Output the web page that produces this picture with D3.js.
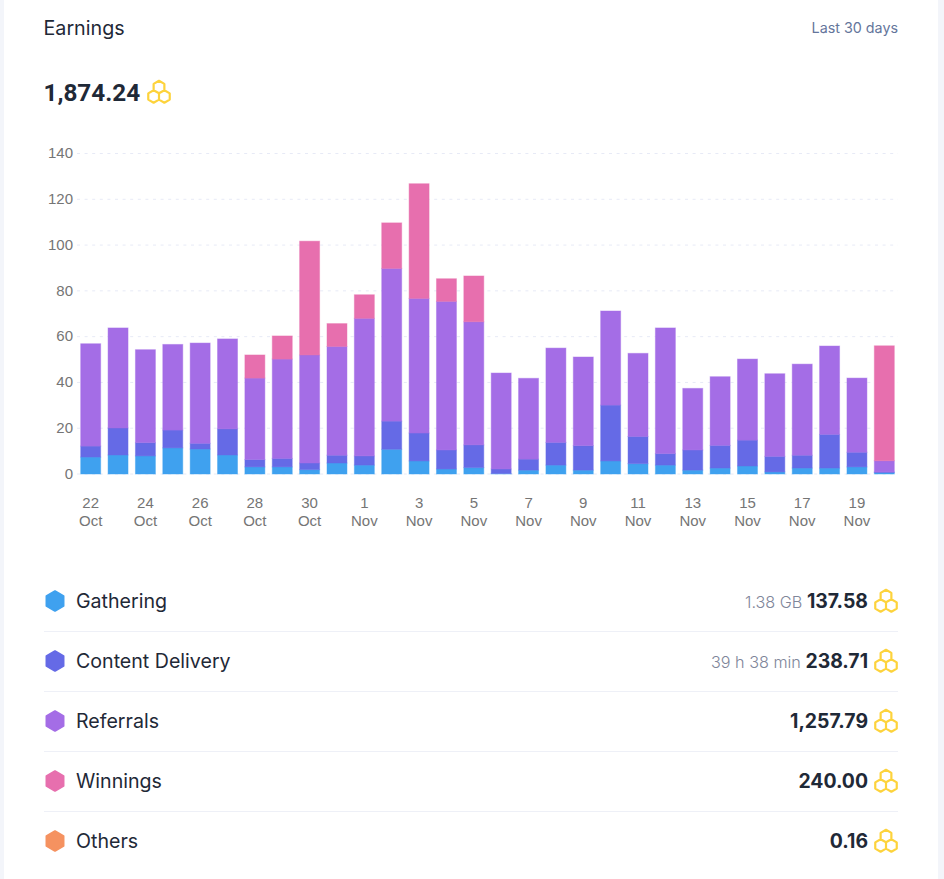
<!DOCTYPE html>
<html>
<head>
<meta charset="utf-8">
<script src="https://cdn.jsdelivr.net/npm/d3@7"></script>
<style>
  html, body { margin: 0; padding: 0; background: #f3f5fa; overflow: hidden; }
  svg { display: block; }
  text { font-family: Inter, "Noto Sans", sans-serif; }
</style>
</head>
<body>
<div id="chart"></div>
<script>
// x axis days, labels only on every other bar
var days = ["22 Oct","23 Oct","24 Oct","25 Oct","26 Oct","27 Oct","28 Oct","29 Oct","30 Oct","31 Oct",
  "1 Nov","2 Nov","3 Nov","4 Nov","5 Nov","6 Nov","7 Nov","8 Nov","9 Nov","10 Nov",
  "11 Nov","12 Nov","13 Nov","14 Nov","15 Nov","16 Nov","17 Nov","18 Nov","19 Nov","20 Nov"];

// values
var gathering = [7.4,8.3,7.9,11.4,10.9,8.3,3.1,3.1,1.9,4.8,3.9,10.8,5.7,2.2,2.8,0.2,1.7,3.9,1.7,5.7,4.5,3.9,1.7,2.6,3.5,0.9,2.6,2.6,3.1,0.6];
var delivery = [4.8,11.8,5.8,7.8,2.5,11.4,3.2,3.7,2.9,3.4,4.0,12.3,12.2,8.3,9.9,2.0,4.8,9.9,10.7,24.4,11.9,5.0,8.8,9.9,11.3,6.8,5.6,14.7,6.4,0.3];
var referrals = [44.7,43.7,40.6,37.4,43.8,39.3,35.6,43.4,47.2,47.5,60.1,66.7,58.8,64.9,53.8,41.9,35.3,41.2,38.7,41.1,36.3,54.9,26.9,30.0,35.4,36.1,39.8,38.6,32.4,4.9];
var winnings = [0,0,0,0,0,0,10.1,10.1,49.7,10.0,10.3,19.9,50.1,9.9,20.0,0,0,0,0,0,0,0,0,0,0,0,0,0,0,50.2];
var others = [0,0,0,0,0,0,0,0,0,0,0,0,0,0,0,0,0,0,0,0,0,0,0,0,0,0,0,0,0,0];
var yTicks = [0,20,40,60,80,100,120,140];

// legend table
var names = ["Gathering","Content Delivery","Referrals","Winnings","Others"];
var colors = ["#3fa1ef","#656ae6","#a46de6","#e76fae","#f59260"];
var notes = ["1.38 GB","39 h 38 min","","",""];
var totals = ["137.58","238.71","1,257.79","240.00","0.16"];

var width = 944, height = 879;
var dark = "#1f2937";

var svg = d3.select("#chart").append("svg")
  .attr("width", width)
  .attr("height", height)
  .attr("viewBox", [0, 0, width, height]);

// white card
svg.append("rect")
  .attr("x", 4).attr("y", 0)
  .attr("width", 934).attr("height", height)
  .attr("fill", "#fff");

// header
svg.append("text")
  .attr("x", 43.5).attr("y", 35)
  .style("font-size", "19.7px")
  .attr("fill", dark)
  .text("Earnings");
svg.append("text")
  .attr("x", 898).attr("y", 33)
  .attr("text-anchor", "end")
  .style("font-size", "14.3px")
  .attr("fill", "#64759b")
  .text("Last 30 days");
svg.append("text")
  .attr("x", 43.5).attr("y", 101)
  .style("font-family", "Roboto")
  .style("font-size", "24.3px")
  .style("font-weight", 700)
  .attr("fill", dark)
  .text("1,874.24");

// hexagon corners, pointy side up
function hexPath(cx, cy, r) {
  var pts = d3.range(6).map(function (i) {
    var a = Math.PI / 3 * i;
    return [cx + r * Math.sin(a), cy - r * Math.cos(a)];
  });
  return "M" + pts.join("L") + "Z";
}

// the little coin made of 3 hexagons
function coin(cx, cy) {
  var r = 6.2;
  var dx = r * Math.sqrt(3) / 2;
  var p = hexPath(cx, cy - 5, r) + hexPath(cx - dx, cy + 4.5, r) + hexPath(cx + dx, cy + 4.5, r);
  svg.append("path")
    .attr("d", p)
    .attr("fill", "none")
    .attr("stroke", "#fdd33c")
    .attr("stroke-width", 2.2)
    .attr("stroke-linejoin", "round");
}
coin(159, 92);

// scales
var x = d3.scaleBand().domain(days).range([77, 898]).paddingInner(0.27).paddingOuter(0.135);
var y = d3.scaleLinear().domain([0, 140]).range([474, 153.5]);

// grid
svg.append("g").selectAll("line")
  .data(yTicks)
  .join("line")
  .attr("x1", 77).attr("x2", 898)
  .attr("y1", function (d) { return y(d); })
  .attr("y2", function (d) { return y(d); })
  .attr("stroke", "#e7eaf6")
  .attr("stroke-dasharray", "3,4.6");

// y axis
var yAxis = svg.append("g")
  .attr("transform", "translate(73,-0.5)")
  .call(d3.axisLeft(y).tickValues(yTicks).tickSize(0).tickPadding(0));
yAxis.select(".domain").remove();
yAxis.selectAll("text")
  .style("font-family", "'Liberation Sans'")
  .style("font-size", "15px")
  .attr("fill", "#757575");

// stacked bars
var rows = days.map(function (d, i) {
  return { day: d, Gathering: gathering[i], "Content Delivery": delivery[i], Referrals: referrals[i], Winnings: winnings[i], Others: others[i] };
});
var stacked = d3.stack().keys(names)(rows);

svg.append("g").selectAll("g")
  .data(stacked)
  .join("g")
  .attr("fill", function (s, i) { return colors[i]; })
  .attr("stroke", function (s, i) { return colors[i]; })
  .attr("stroke-opacity", 0.45)
  .selectAll("rect")
  .data(function (s) { return s.filter(function (d) { return d[1] > d[0]; }); })
  .join("rect")
  .attr("x", function (d) { return x(d.data.day); })
  .attr("width", x.bandwidth())
  .attr("y", function (d) { return y(d[1]); })
  .attr("height", function (d) { return y(d[0]) - y(d[1]); });

// x labels, two lines
var xLabels = svg.append("g").selectAll("text")
  .data(days.filter(function (d, i) { return i % 2 == 0 && i < 29; }))
  .join("text")
  .attr("text-anchor", "middle")
  .attr("y", 508)
  .style("font-family", "'Liberation Sans'")
  .style("font-size", "15px")
  .attr("fill", "#757575");
xLabels.append("tspan")
  .attr("x", function (d) { return x(d) + x.bandwidth() / 2; })
  .text(function (d) { return d.split(" ")[0]; });
xLabels.append("tspan")
  .attr("x", function (d) { return x(d) + x.bandwidth() / 2; })
  .attr("dy", 18)
  .text(function (d) { return d.split(" ")[1]; });

// legend rows
names.forEach(function (name, i) {
  var cy = 601 + i * 60;

  if (i > 0) {
    svg.append("line")
      .attr("x1", 44).attr("x2", 898)
      .attr("y1", cy - 29.5).attr("y2", cy - 29.5)
      .attr("stroke", "#eef0f7");
  }

  svg.append("path")
    .attr("d", hexPath(55, cy, 9.8))
    .attr("fill", colors[i])
    .attr("stroke", colors[i])
    .attr("stroke-width", 2)
    .attr("stroke-linejoin", "round");

  svg.append("text")
    .attr("x", 76).attr("y", cy + 7)
    .style("font-size", "19.6px")
    .attr("fill", dark)
    .text(name);

  var t = svg.append("text")
    .attr("x", 868).attr("y", cy + 7)
    .attr("text-anchor", "end");
  if (notes[i]) {
    t.append("tspan")
      .style("font-size", "16.2px")
      .style("font-weight", 300)
      .attr("fill", "#80869a")
      .text(notes[i] + " ");
  }
  t.append("tspan")
    .style("font-size", "19.4px")
    .style("font-weight", 700)
    .attr("fill", dark)
    .text(totals[i]);

  coin(886, cy);
});
</script>
</body>
</html>
